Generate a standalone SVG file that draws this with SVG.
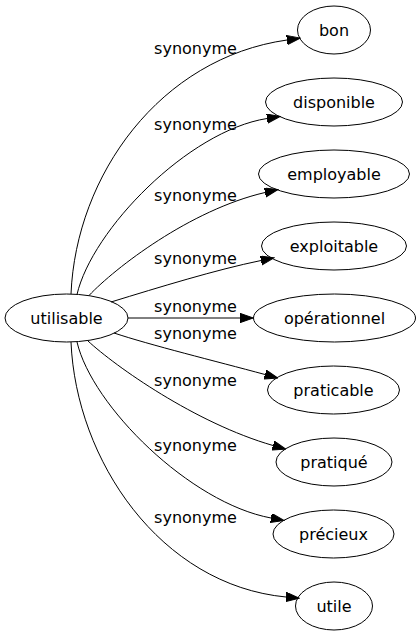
<svg xmlns="http://www.w3.org/2000/svg" width="419" height="635" viewBox="0 0 419 635">
<style>
  .node ellipse { fill: none; stroke: #000; stroke-width: 1; }
  .node text, .lbl { font-family: "DejaVu Sans", sans-serif; font-size: 16px; fill: #000; text-anchor: middle; }
  .edge { fill: none; stroke: #000; stroke-width: 1; marker-end: url(#arrow); }
</style>
<defs>
  <marker id="arrow" markerUnits="userSpaceOnUse" markerWidth="14" markerHeight="10" refX="0" refY="4.67" orient="auto" viewBox="0 0 14 10">
    <path d="M0,0 L13.3,4.67 L0,9.33 Z" fill="#000" stroke="#000" stroke-width="1"/>
  </marker>
</defs>
<rect width="419" height="635" fill="#fff"/>
<g id="connectors">
  <path class="edge" d="M71,294 C76,175 160,58 287,40"/>
  <path class="edge" d="M77,294.5 C92,230 188,131 267,118.5"/>
  <path class="edge" d="M89,295.5 C115,268 190,210 265,192.5"/>
  <path class="edge" d="M111,302 C160,287 215,270 261,260.5"/>
  <path class="edge" d="M128,318 L240,318"/>
  <path class="edge" d="M114,333 C150,345 215,361 265,374.5"/>
  <path class="edge" d="M88,341 C115,366 195,423 273,445.5"/>
  <path class="edge" d="M77,342 C92,406 190,503 271,518"/>
  <path class="edge" d="M71,342 C76,460 160,585 286,597"/>
  <text class="lbl" x="195.5" y="53.5">synonyme</text>
  <text class="lbl" x="195.5" y="129.5">synonyme</text>
  <text class="lbl" x="195.5" y="200.5">synonyme</text>
  <text class="lbl" x="195.5" y="263.5">synonyme</text>
  <text class="lbl" x="195.5" y="311.5">synonyme</text>
  <text class="lbl" x="195.5" y="338.5">synonyme</text>
  <text class="lbl" x="195.5" y="385.5">synonyme</text>
  <text class="lbl" x="195.5" y="450.5">synonyme</text>
  <text class="lbl" x="195.5" y="522.5">synonyme</text>
</g>
<g id="node-utilisable" class="node"><ellipse cx="66.5" cy="318" rx="61.5" ry="24"/><text x="66.5" y="323.5">utilisable</text></g>
<g id="node-bon" class="node"><ellipse cx="334" cy="30" rx="36.5" ry="24"/><text x="334" y="35.5">bon</text></g>
<g id="node-disponible" class="node"><ellipse cx="334" cy="102" rx="68.5" ry="24"/><text x="334" y="107.5">disponible</text></g>
<g id="node-employable" class="node"><ellipse cx="334" cy="174" rx="75.5" ry="24"/><text x="334" y="179.5">employable</text></g>
<g id="node-exploitable" class="node"><ellipse cx="334" cy="246" rx="72.5" ry="24"/><text x="334" y="251.5">exploitable</text></g>
<g id="node-operationnel" class="node"><ellipse cx="334.5" cy="318" rx="81" ry="24"/><text x="334.5" y="323.5">opérationnel</text></g>
<g id="node-praticable" class="node"><ellipse cx="333.5" cy="390" rx="66" ry="24"/><text x="333.5" y="395.5">praticable</text></g>
<g id="node-pratique" class="node"><ellipse cx="334" cy="462" rx="58" ry="24"/><text x="334" y="467.5">pratiqué</text></g>
<g id="node-precieux" class="node"><ellipse cx="333.5" cy="534" rx="60.5" ry="24"/><text x="333.5" y="539.5">précieux</text></g>
<g id="node-utile" class="node"><ellipse cx="334" cy="606" rx="38.5" ry="24"/><text x="334" y="611.5">utile</text></g>
</svg>
